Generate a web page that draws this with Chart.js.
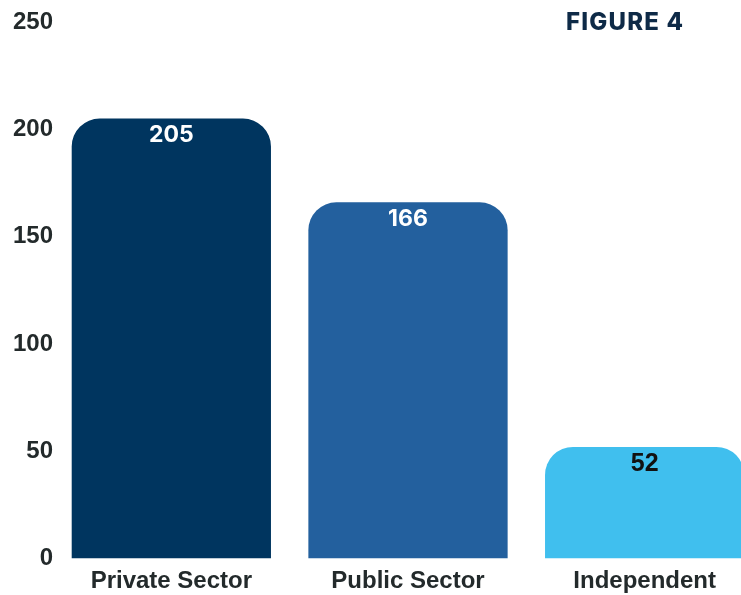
<!DOCTYPE html>
<html>
<head>
<meta charset="utf-8">
<script src="https://cdn.jsdelivr.net/npm/chart.js@4/dist/chart.umd.min.js"></script>
<style>
    html, body { margin: 0; padding: 0; background: #fff; }
    #wrap { position: relative; width: 741px; height: 595px; overflow: hidden; }
    #chart-box { position: absolute; left: 0; top: 0; width: 763px; height: 595px; }
    #figure-label {
        position: absolute; left: 566px; top: 7px;
        font-family: Inter, "Noto Sans", sans-serif; font-weight: 800;
        font-size: 24px; letter-spacing: 1.2px; color: #0e2a47;
    }
</style>
</head>
<body>
<div id="wrap">
    <div id="chart-box"><canvas id="sector-chart" width="763" height="595"></canvas></div>
    <div id="figure-label">FIGURE 4</div>
</div>
<script>
const categories = ["Private Sector", "Public Sector", "Independent"];
const counts = [205, 166, 52];
const barColors = ["#00355f", "#23609e", "#40bfee"];
const valueColors = ["#ffffff", "#ffffff", "#111111"];
const yTicks = [0, 50, 100, 150, 200, 250];

// Draw the number near the top of each bar
const valueLabels = {
    id: "valueLabels",
    afterDatasetsDraw(chart) {
        const ctx = chart.ctx;
        const meta = chart.getDatasetMeta(0);
        ctx.save();
        ctx.textAlign = "center";
        ctx.textBaseline = "middle";
        meta.data.forEach((bar, i) => {
            if (i === 2) {
                ctx.font = "bold 25px 'Liberation Sans', Arial, sans-serif";
            } else {
                ctx.font = "bold 23px Inter, 'Noto Sans', sans-serif";
            }
            ctx.fillStyle = valueColors[i];
            ctx.fillText(String(counts[i]), bar.x, bar.y + 17);
        });
        ctx.restore();
    }
};

const ctx = document.getElementById("sector-chart").getContext("2d");
new Chart(ctx, {
    type: "bar",
    data: {
        labels: categories,
        datasets: [{
            data: counts,
            backgroundColor: barColors,
            borderRadius: { topLeft: 28, topRight: 28, bottomLeft: 0, bottomRight: 0 },
            borderSkipped: false,
            categoryPercentage: 1,
            barPercentage: 0.842
        }]
    },
    options: {
        responsive: false,
        animation: false,
        layout: { padding: { top: 22, left: 0, right: 0, bottom: 0 } },
        plugins: {
            legend: { display: false },
            tooltip: { enabled: false }
        },
        scales: {
            x: {
                grid: { display: false, drawTicks: false },
                border: { display: false },
                ticks: {
                    color: "#232a2b",
                    padding: 8,
                    font: { family: "'Liberation Sans', Arial, sans-serif", weight: "bold", size: 24 }
                },
                afterFit(scale) { scale.height = 36.5; }
            },
            y: {
                min: 0,
                max: 250,
                grid: { display: false, drawTicks: false },
                border: { display: false },
                afterBuildTicks(scale) { scale.ticks = yTicks.map((v) => ({ value: v })); },
                ticks: {
                    color: "#232a2b",
                    padding: 0,
                    font: { family: "'Liberation Sans', Arial, sans-serif", weight: "bold", size: 24 }
                },
                afterFit(scale) { scale.width = 53; }
            }
        }
    },
    plugins: [valueLabels]
});
</script>
</body>
</html>
